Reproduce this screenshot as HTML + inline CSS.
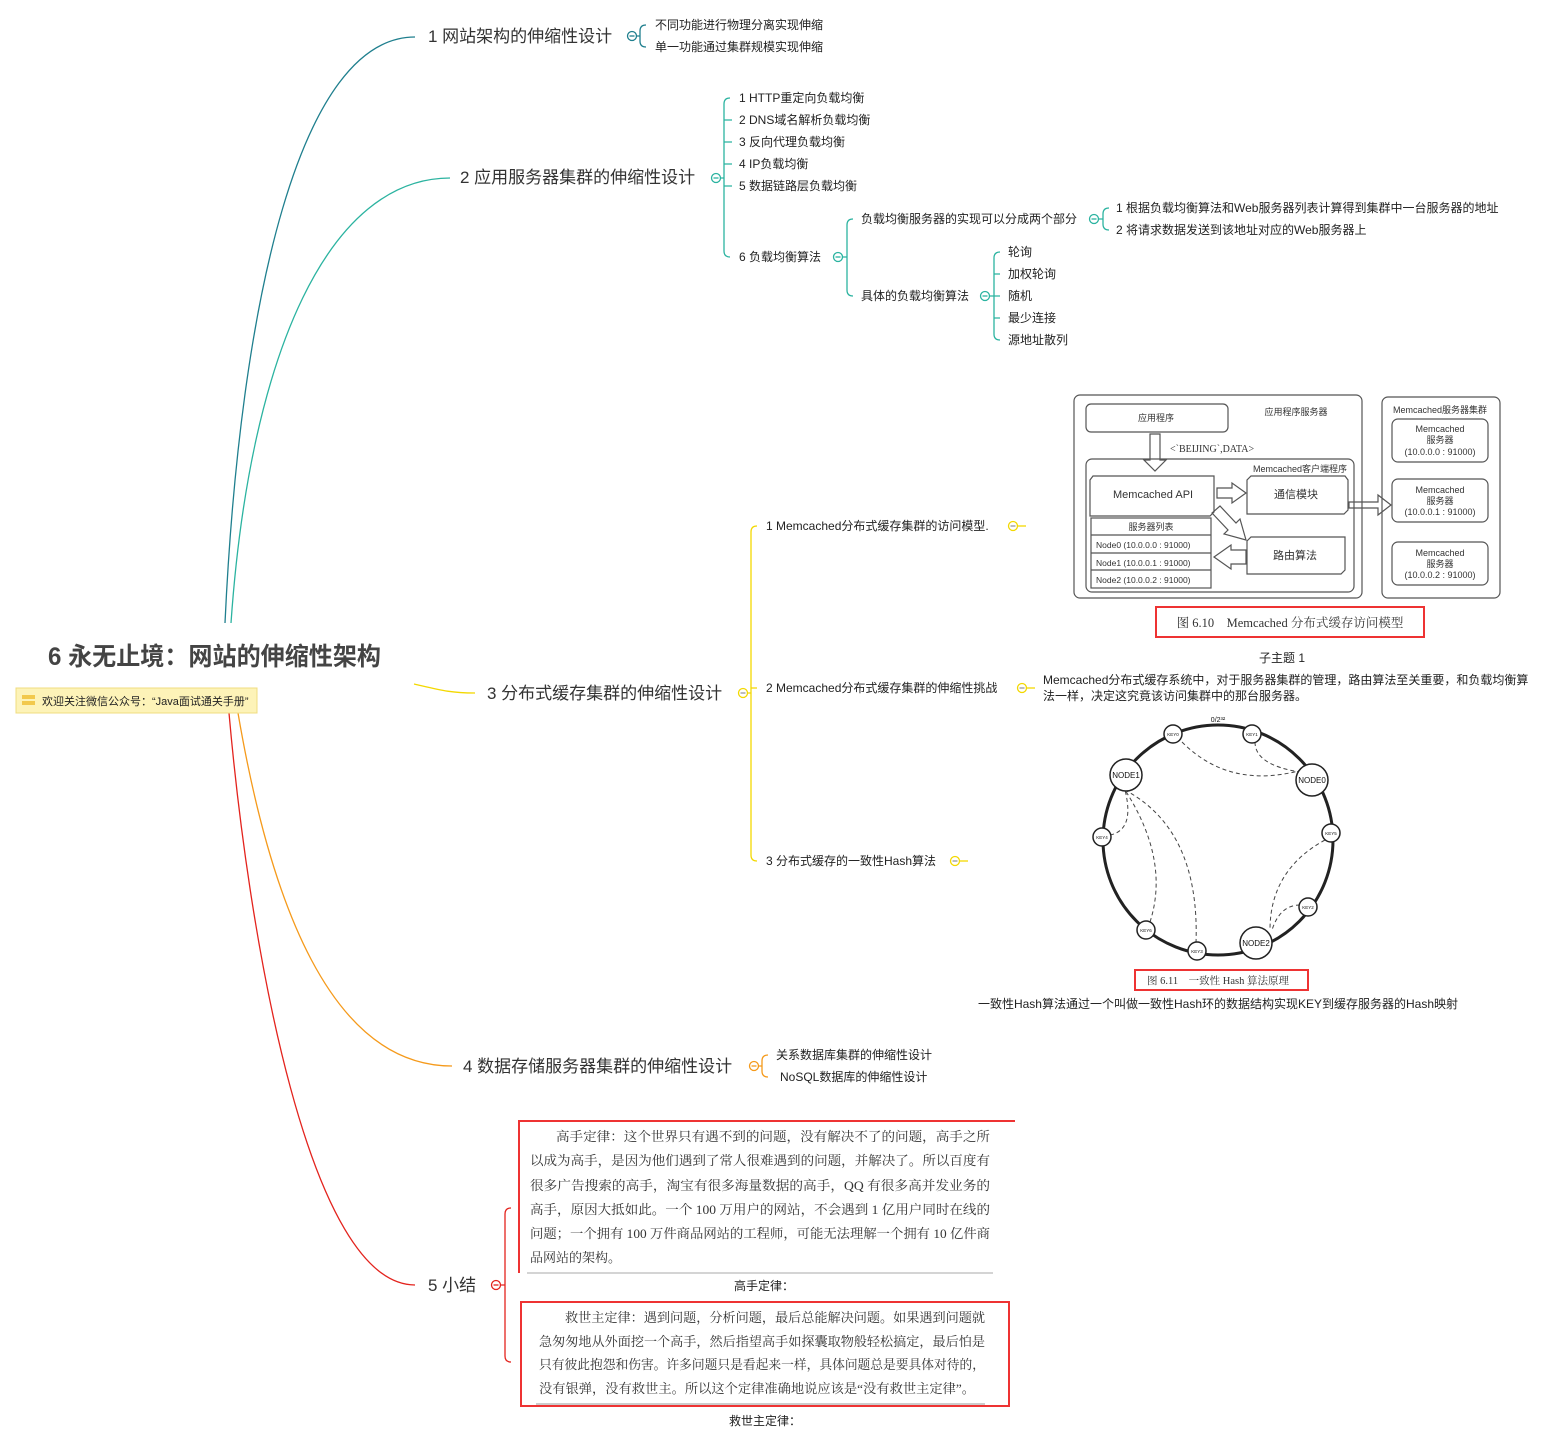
<!DOCTYPE html>
<html><head><meta charset="utf-8"><style>
body{margin:0;background:#fff}
svg{display:block}
.s{font-family:"Liberation Sans","Noto Sans CJK SC",sans-serif;fill:#222}
.r{font-family:"Liberation Serif","Noto Serif CJK SC",serif;fill:#333}
</style></head><body>
<svg width="1560" height="1447" viewBox="0 0 1560 1447" xmlns="http://www.w3.org/2000/svg">
<g fill="none" stroke-width="1.3">
<path d="M225 623 C 240 300, 300 37, 415 37" stroke="#1f7f8e"/>
<path d="M231 623 C 250 350, 330 178, 450 178" stroke="#2bb3a0"/>
<path d="M414 684 C 440 690, 450 693, 475 693" stroke="#f3d800"/>
<path d="M238 713 C 270 900, 330 1066, 452 1066" stroke="#f59a1b"/>
<path d="M229 713 C 250 950, 310 1285, 415 1285" stroke="#e3231d"/>
<g stroke="#1f7f8e"><circle cx="632" cy="36" r="4.5"/><line x1="629.5" y1="36" x2="634.5" y2="36"/><path d="M637 36 H640 M646 25 Q640 25 640 31 V41 Q640 47 646 47"/></g>
<g stroke="#2bb3a0">
<circle cx="716" cy="178" r="4.5"/><line x1="713.5" y1="178" x2="718.5" y2="178"/>
<path d="M721 178 H724 M730 98 Q724 98 724 104 V251 Q724 257 730 257 M724 120 H732 M724 142 H732 M724 164 H732 M724 186 H732"/>
<circle cx="838" cy="257" r="4.5"/><line x1="835.5" y1="257" x2="840.5" y2="257"/>
<path d="M843 257 H847 M853 219 Q847 219 847 225 V290 Q847 296 853 296"/>
<circle cx="1094" cy="219" r="4.5"/><line x1="1091.5" y1="219" x2="1096.5" y2="219"/>
<path d="M1099 219 H1103 M1109 208 Q1103 208 1103 214 V224 Q1103 230 1109 230"/>
<circle cx="985" cy="296" r="4.5"/><line x1="982.5" y1="296" x2="987.5" y2="296"/>
<path d="M990 296 H994 M1000 252 Q994 252 994 258 V334 Q994 340 1000 340 M994 274 H1000 M994 296 H1000 M994 318 H1000"/>
</g>
<g stroke="#f3d800">
<circle cx="743" cy="693" r="4.5"/><line x1="740.5" y1="693" x2="745.5" y2="693" stroke="#999"/>
<path d="M748 693 H751 M757 526 Q751 526 751 532 V855 Q751 861 757 861 M751 688 H757"/>
<circle cx="1013" cy="526" r="4.5"/><line x1="1010.5" y1="526" x2="1015.5" y2="526" stroke="#999"/><path d="M1018 526 H1026"/>
<circle cx="1022" cy="688" r="4.5"/><line x1="1019.5" y1="688" x2="1024.5" y2="688" stroke="#999"/><path d="M1027 688 H1035"/>
<circle cx="955" cy="861" r="4.5"/><line x1="952.5" y1="861" x2="957.5" y2="861" stroke="#999"/><path d="M960 861 H968"/>
</g>
<g stroke="#f59a1b"><circle cx="754" cy="1066" r="4.5"/><line x1="751.5" y1="1066" x2="756.5" y2="1066"/><path d="M759 1066 H762 M768 1055 Q762 1055 762 1061 V1071 Q762 1077 768 1077"/></g>
<g stroke="#e3231d"><circle cx="496" cy="1285" r="4.5"/><line x1="493.5" y1="1285" x2="498.5" y2="1285"/><path d="M501 1285 H505 M511 1208 Q505 1208 505 1214 V1356 Q505 1362 511 1362"/></g>
</g>

<text x="48" y="665" class="s" font-size="25" font-weight="bold" textLength="333" lengthAdjust="spacingAndGlyphs" style="fill:#444">6 永无止境：网站的伸缩性架构</text>
<rect x="16" y="688" width="241" height="25" fill="#fdf3b8" stroke="#f0dc80"/>
<rect x="22" y="695" width="13" height="4" fill="#f2c94c"/><rect x="22" y="701" width="13" height="4" fill="#f2c94c"/>
<text x="42" y="705" class="s" font-size="11">欢迎关注微信公众号：“Java面试通关手册”</text>

<g class="s" font-size="17" style="fill:#333">
<text x="428" y="42">1 网站架构的伸缩性设计</text>
<text x="460" y="183">2 应用服务器集群的伸缩性设计</text>
<text x="487" y="699">3 分布式缓存集群的伸缩性设计</text>
<text x="463" y="1072">4 数据存储服务器集群的伸缩性设计</text>
<text x="428" y="1291">5 小结</text>
</g>
<g class="s" font-size="12">
<text x="655" y="29">不同功能进行物理分离实现伸缩</text>
<text x="655" y="51">单一功能通过集群规模实现伸缩</text>
<text x="739" y="102">1 HTTP重定向负载均衡</text>
<text x="739" y="124">2 DNS域名解析负载均衡</text>
<text x="739" y="146">3 反向代理负载均衡</text>
<text x="739" y="168">4 IP负载均衡</text>
<text x="739" y="190">5 数据链路层负载均衡</text>
<text x="739" y="261">6 负载均衡算法</text>
<text x="861" y="223">负载均衡服务器的实现可以分成两个部分</text>
<text x="861" y="300">具体的负载均衡算法</text>
<text x="1116" y="212">1 根据负载均衡算法和Web服务器列表计算得到集群中一台服务器的地址</text>
<text x="1116" y="234">2 将请求数据发送到该地址对应的Web服务器上</text>
<text x="1008" y="256">轮询</text>
<text x="1008" y="278">加权轮询</text>
<text x="1008" y="300">随机</text>
<text x="1008" y="322">最少连接</text>
<text x="1008" y="344">源地址散列</text>
<text x="766" y="530">1 Memcached分布式缓存集群的访问模型.</text>
<text x="766" y="692">2 Memcached分布式缓存集群的伸缩性挑战</text>
<text x="766" y="865">3 分布式缓存的一致性Hash算法</text>
<text x="1282" y="662" text-anchor="middle">子主题 1</text>
<text x="1043" y="684">Memcached分布式缓存系统中，对于服务器集群的管理，路由算法至关重要，和负载均衡算</text>
<text x="1043" y="700">法一样，决定这究竟该访问集群中的那台服务器。</text>
<text x="1218" y="1008" text-anchor="middle">一致性Hash算法通过一个叫做一致性Hash环的数据结构实现KEY到缓存服务器的Hash映射</text>
<text x="776" y="1059">关系数据库集群的伸缩性设计</text>
<text x="780" y="1081">NoSQL数据库的伸缩性设计</text>
<text x="764" y="1290" text-anchor="middle">高手定律：</text>
<text x="765" y="1425" text-anchor="middle">救世主定律：</text>
</g>

<g fill="none" stroke="#555" stroke-width="1.2">
<rect x="1074" y="395" width="288" height="203" rx="6"/>
<rect x="1086" y="404" width="142" height="28" rx="5"/>
<rect x="1086" y="459" width="268" height="133" rx="6"/>
<path d="M1093 476 H1214 V512 L1210 516 H1090 V480 Z"/>
<path d="M1251 476 H1345 L1348 480 V510 L1344 514 H1247 V480 Z"/>
<path d="M1251 537 H1345 V570 L1341 574 H1247 V541 Z"/>
<rect x="1091" y="518" width="120" height="70"/>
<path d="M1091 535 H1211 M1091 553 H1211 M1091 570 H1211"/>
<rect x="1382" y="397" width="118" height="201" rx="6"/>
<rect x="1392" y="419" width="96" height="43" rx="6"/>
<rect x="1392" y="479" width="96" height="43" rx="6"/>
<rect x="1392" y="542" width="96" height="43" rx="6"/>
<path d="M1150 434 V460 H1144 L1155 471 L1166 460 H1160 V434 Z"/>
<path d="M1217 488 H1232 V483 L1246 493 L1232 503 V498 H1217 Z"/>
<path d="M1349 502 H1378 V495 L1391 505 L1378 515 V508 H1349 Z"/>
<path d="M1246 550 H1231 V545 L1214 557 L1231 569 V564 H1246 Z"/>
<path d="M1212 513 L1228 530 L1224 534 L1246 540 L1240 519 L1236 523 L1220 506 Z"/>
</g>
<g class="s" font-size="9" text-anchor="middle" style="fill:#333">
<text x="1156" y="421">应用程序</text>
<text x="1296" y="415">应用程序服务器</text>
<text x="1300" y="472">Memcached客户端程序</text>
<text x="1440" y="413">Memcached服务器集群</text>
<text x="1151" y="530">服务器列表</text>
<text x="1440" y="432">Memcached</text><text x="1440" y="443">服务器</text><text x="1440" y="455">(10.0.0.0 : 91000)</text>
<text x="1440" y="493">Memcached</text><text x="1440" y="504">服务器</text><text x="1440" y="515">(10.0.0.1 : 91000)</text>
<text x="1440" y="556">Memcached</text><text x="1440" y="567">服务器</text><text x="1440" y="578">(10.0.0.2 : 91000)</text>
</g>
<g class="s" font-size="11" style="fill:#333">
<text x="1113" y="498">Memcached API</text>
<text x="1274" y="498">通信模块</text>
<text x="1273" y="559">路由算法</text>
</g>
<g class="s" font-size="8.5" style="fill:#333">
<text x="1096" y="548">Node0 (10.0.0.0 : 91000)</text>
<text x="1096" y="566">Node1 (10.0.0.1 : 91000)</text>
<text x="1096" y="583">Node2 (10.0.0.2 : 91000)</text>
</g>
<text x="1170" y="452" class="r" font-size="10">&lt;`BEIJING`,DATA&gt;</text>
<rect x="1156" y="607" width="268" height="30" fill="none" stroke="#e33" stroke-width="2"/>
<text x="1290" y="627" class="r" font-size="12.5" text-anchor="middle">图 6.10　Memcached 分布式缓存访问模型</text>

<circle cx="1218" cy="840" r="115" fill="none" stroke="#222" stroke-width="3"/>
<g fill="none" stroke="#444" stroke-width="1" stroke-dasharray="4,3">
<path d="M1182 742 Q1230 790 1302 770"/>
<path d="M1255 742 Q1255 765 1300 772"/>
<path d="M1110 835 Q1135 830 1125 790"/>
<path d="M1150 922 Q1170 860 1125 790"/>
<path d="M1196 943 Q1200 830 1125 790"/>
<path d="M1325 840 Q1270 870 1270 930"/>
<path d="M1300 905 Q1280 905 1272 930"/>
</g>
<g fill="#fff" stroke="#222" stroke-width="1.5">
<circle cx="1126" cy="775" r="16"/><circle cx="1312" cy="780" r="16"/><circle cx="1256" cy="943" r="16"/>
<circle cx="1173" cy="734" r="9"/><circle cx="1252" cy="734" r="9"/><circle cx="1102" cy="837" r="9"/>
<circle cx="1331" cy="833" r="9"/><circle cx="1308" cy="907" r="9"/><circle cx="1146" cy="930" r="9"/><circle cx="1197" cy="951" r="9"/>
</g>
<g class="s" font-size="8" text-anchor="middle" style="fill:#111">
<text x="1126" y="778">NODE1</text><text x="1312" y="783">NODE0</text><text x="1256" y="946">NODE2</text>
<text x="1218" y="722" font-size="7">0/2³²</text>
</g>
<g class="s" font-size="4.5" text-anchor="middle" style="fill:#111">
<text x="1173" y="736">KEY0</text><text x="1252" y="736">KEY1</text><text x="1102" y="839">KEY4</text>
<text x="1331" y="835">KEY5</text><text x="1308" y="909">KEY2</text><text x="1146" y="932">KEY6</text><text x="1197" y="953">KEY3</text>
</g>
<rect x="1135" y="970" width="173" height="20" fill="none" stroke="#e33" stroke-width="2"/>
<text x="1218" y="984" class="r" font-size="10.5" text-anchor="middle">图 6.11　一致性 Hash 算法原理</text>

<path d="M519 1273 V1121 H1015" fill="none" stroke="#e33" stroke-width="2"/>
<line x1="527" y1="1273" x2="993" y2="1273" stroke="#aaa" stroke-width="1"/>
<g class="r" font-size="13">
<text x="556" y="1141" textLength="434" lengthAdjust="spacingAndGlyphs">高手定律：这个世界只有遇不到的问题，没有解决不了的问题，高手之所</text>
<text x="530" y="1165" textLength="460" lengthAdjust="spacingAndGlyphs">以成为高手，是因为他们遇到了常人很难遇到的问题，并解决了。所以百度有</text>
<text x="530" y="1190" textLength="460" lengthAdjust="spacingAndGlyphs">很多广告搜索的高手，淘宝有很多海量数据的高手，QQ 有很多高并发业务的</text>
<text x="530" y="1214" textLength="460" lengthAdjust="spacingAndGlyphs">高手，原因大抵如此。一个 100 万用户的网站，不会遇到 1 亿用户同时在线的</text>
<text x="530" y="1238" textLength="460" lengthAdjust="spacingAndGlyphs">问题；一个拥有 100 万件商品网站的工程师，可能无法理解一个拥有 10 亿件商</text>
<text x="530" y="1262">品网站的架构。</text>
</g>
<rect x="521" y="1302" width="488" height="104" fill="none" stroke="#e33" stroke-width="2"/>
<line x1="536" y1="1404" x2="985" y2="1404" stroke="#999" stroke-width="1"/>
<g class="r" font-size="13">
<text x="565" y="1322" textLength="420" lengthAdjust="spacingAndGlyphs">救世主定律：遇到问题，分析问题，最后总能解决问题。如果遇到问题就</text>
<text x="539" y="1346" textLength="446" lengthAdjust="spacingAndGlyphs">急匆匆地从外面挖一个高手，然后指望高手如探囊取物般轻松搞定，最后怕是</text>
<text x="539" y="1369" textLength="446" lengthAdjust="spacingAndGlyphs">只有彼此抱怨和伤害。许多问题只是看起来一样，具体问题总是要具体对待的，</text>
<text x="539" y="1393" textLength="436" lengthAdjust="spacingAndGlyphs">没有银弹，没有救世主。所以这个定律准确地说应该是“没有救世主定律”。</text>
</g>
</svg>
</body></html>
